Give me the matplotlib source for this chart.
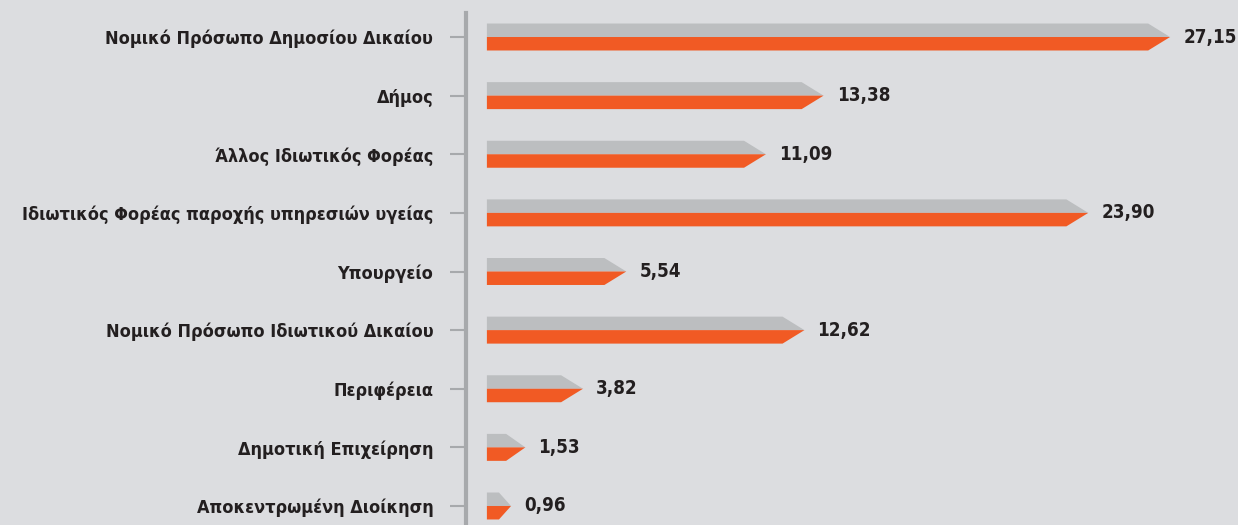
import matplotlib
matplotlib.use("Agg")
import matplotlib.pyplot as plt
from matplotlib.patches import Polygon
from matplotlib import font_manager

# data
categories = ["Νομικό Πρόσωπο Δημοσίου Δικαίου", "Δήμος", "Άλλος Ιδιωτικός Φορέας",
              "Ιδιωτικός Φορέας παροχής υπηρεσιών υγείας", "Υπουργείο",
              "Νομικό Πρόσωπο Ιδιωτικού Δικαίου", "Περιφέρεια", "Δημοτική Επιχείρηση",
              "Αποκεντρωμένη Διοίκηση"]
values = [27.15, 13.38, 11.09, 23.90, 5.54, 12.62, 3.82, 1.53, 0.96]
value_labels = ["27,15", "13,38", "11,09", "23,90", "5,54", "12,62", "3,82", "1,53", "0,96"]

BG = "#dcdde0"
GREY = "#bcbec0"
ORANGE = "#f15a24"
AXIS = "#a7a9ac"
TEXT = "#231f20"

# condensed bold, closest thing to the original narrow face
fp = font_manager.FontProperties(family="DejaVu Sans", weight="bold", stretch="condensed", size=13)
fp_val = font_manager.FontProperties(family="DejaVu Sans", weight="bold", stretch="condensed", size=13.5)

fig = plt.figure(figsize=(12.38, 5.25), dpi=100, facecolor=BG)
ax = fig.add_axes([466 / 1238, 0, 1 - 466 / 1238, 1 - 13 / 525])
ax.set_facecolor(BG)

# arrow-shaped bars: grey upper half, orange lower half, pointed tip
half = 0.23
for i, v in enumerate(values):
    tip = min(0.87, 0.5 * v)
    grey = Polygon([(0, i - half), (v - tip, i - half), (v, i), (0, i)],
                   closed=True, facecolor=GREY, edgecolor="none")
    orange = Polygon([(0, i), (v, i), (v - tip, i + half), (0, i + half)],
                     closed=True, facecolor=ORANGE, edgecolor="none")
    ax.add_patch(grey)
    ax.add_patch(orange)
    ax.text(v + 0.52, i, value_labels[i], va="center", ha="left", color=TEXT,
            fontproperties=fp_val)

ax.set_xlim(-0.83, 29.85)
ax.set_ylim(8 + 19 / 58.6, -24 / 58.6)
ax.set_yticks(range(len(categories)))
ax.set_yticklabels(categories, color=TEXT, fontproperties=fp)
ax.tick_params(axis="y", length=11.5, width=1.5, color=AXIS, pad=12)
ax.set_xticks([])
for s in ["top", "right", "bottom"]:
    ax.spines[s].set_visible(False)
ax.spines["left"].set_color(AXIS)
ax.spines["left"].set_linewidth(3)

fig.savefig("out.png", dpi=100, facecolor=BG)
